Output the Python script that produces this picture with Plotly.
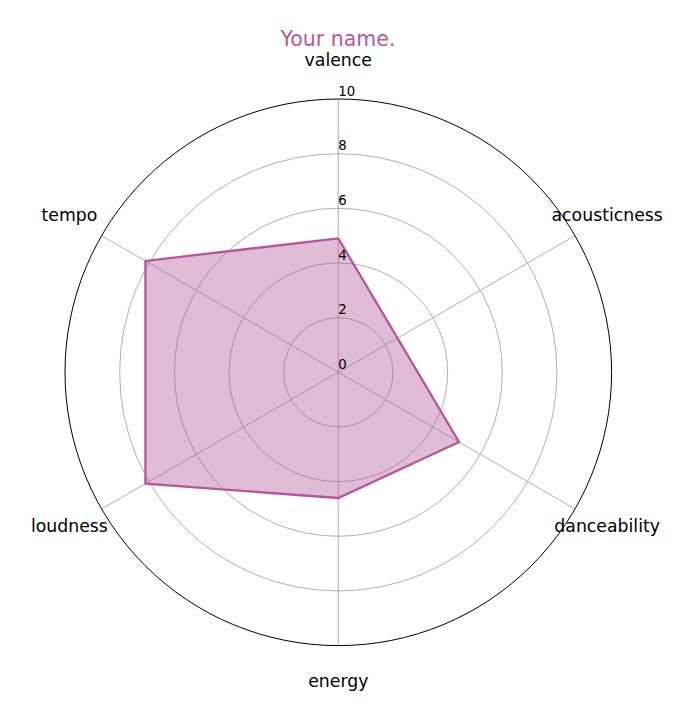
import plotly.graph_objects as go

categories = ["valence", "acousticness", "danceability", "energy", "loudness", "tempo"]
values = [4.9, 2.5, 5.1, 4.6, 8.15, 8.15]
tick_vals = [0, 2, 4, 6, 8, 10]
tick_text = ["0", "2", "4", "6", "8", "10"]
title_text = "Your name."
label_radius = 11.36

main_color = "#b5589b"
fill_color = "rgba(181,88,155,0.4)"
grid_color = "#b0b0b0"

fig = go.Figure()

fig.add_trace(go.Scatterpolar(
    r=values + [values[0]],
    theta=categories + [categories[0]],
    mode="lines",
    line=dict(color=main_color, width=2.3),
    fill="toself",
    fillcolor=fill_color,
    hoverinfo="skip",
    showlegend=False,
))

# radial tick labels along the first spoke
fig.add_trace(go.Scatterpolar(
    r=tick_vals,
    theta=[categories[0]] * len(tick_vals),
    mode="text",
    text=tick_text,
    textposition="top right",
    textfont=dict(family="DejaVu Sans", size=13.3, color="black"),
    cliponaxis=False,
    hoverinfo="skip",
    showlegend=False,
))

# category labels on an outer label ring (same scale, larger radius)
fig.add_trace(go.Scatterpolar(
    r=[label_radius] * len(categories),
    theta=categories,
    mode="text",
    text=categories,
    textposition="middle center",
    textfont=dict(family="DejaVu Sans", size=17.3, color="black"),
    cliponaxis=False,
    hoverinfo="skip",
    showlegend=False,
    subplot="polar2",
))

W, H = 693, 721
cx, cy = 338.3, 372.3
px_per_unit = 27.33
R = 10 * px_per_unit
R2 = 11.5 * px_per_unit

axis_common_ang = dict(direction="clockwise", rotation=90, showticklabels=False, ticks="")

fig.update_layout(
    width=W, height=H,
    margin=dict(l=0, r=0, t=0, b=0),
    paper_bgcolor="white",
    plot_bgcolor="white",
    title=dict(
        text=title_text,
        x=338 / W, xanchor="center",
        y=1 - 39 / H, yanchor="middle",
        font=dict(family="DejaVu Sans", size=20.5, color=main_color),
    ),
    polar=dict(
        domain=dict(
            x=[(cx - R) / W, (cx + R) / W],
            y=[(H - cy - R) / H, (H - cy + R) / H],
        ),
        bgcolor="white",
        radialaxis=dict(
            range=[0, 10],
            tickvals=tick_vals,
            showticklabels=False,
            ticks="",
            showline=False,
            gridcolor=grid_color,
            gridwidth=1,
            angle=90,
        ),
        angularaxis=dict(
            **axis_common_ang,
            showline=True,
            linecolor="black",
            linewidth=1,
            gridcolor=grid_color,
            gridwidth=1,
        ),
    ),
    polar2=dict(
        domain=dict(
            x=[(cx - R2) / W, (cx + R2) / W],
            y=[(H - cy - R2) / H, (H - cy + R2) / H],
        ),
        bgcolor="rgba(0,0,0,0)",
        radialaxis=dict(range=[0, 11.5], visible=False, showgrid=False),
        angularaxis=dict(**axis_common_ang, showline=False, showgrid=False,
                         categoryarray=categories, categoryorder="array"),
    ),
)

fig.write_html("out.html")
